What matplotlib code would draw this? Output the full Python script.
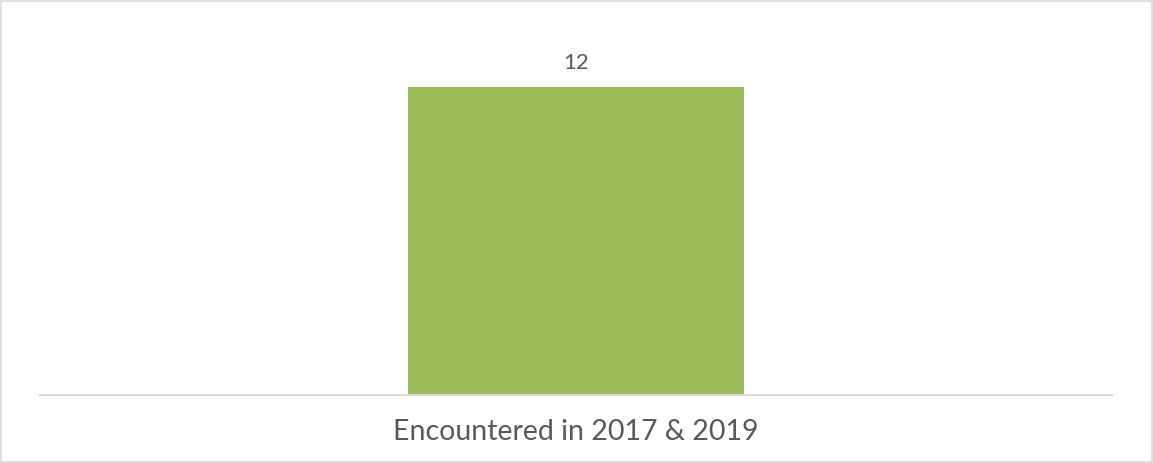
import matplotlib.pyplot as plt
from matplotlib.patches import Rectangle

categories = ['Encountered in 2017 & 2019']
values = [12]

bar_color = '#9bbb59'
text_color = '#595959'
line_color = '#d9d9d9'

plt.rcParams['font.family'] = ['Lato', 'DejaVu Sans']

fig = plt.figure(figsize=(11.53, 4.63), dpi=100)
ax = fig.add_axes([0.0347, 0.1469, 0.9297, 0.776])

bars = ax.bar(range(len(categories)), values, width=0.313, color=bar_color, zorder=2)
ax.set_xlim(-0.5, 0.5)
ax.set_ylim(0, 14)

for rect, v in zip(bars, values):
    ax.text(rect.get_x() + rect.get_width() / 2, v + 0.55, str(v),
            ha='center', va='bottom', fontsize=16, color=text_color)

ax.set_xticks(range(len(categories)))
ax.set_xticklabels(categories, fontsize=20.5, color=text_color)
ax.tick_params(axis='x', length=0, pad=17)
ax.set_yticks([])

for spine in ['left', 'right', 'top']:
    ax.spines[spine].set_visible(False)
ax.spines['bottom'].set_color(line_color)
ax.spines['bottom'].set_linewidth(1.5)

# thin frame round the whole figure
fig.patches.append(Rectangle((0.001, 0.002), 0.998, 0.996, transform=fig.transFigure,
                             fill=False, edgecolor=line_color, linewidth=1.2))

fig.savefig('out.png', dpi=100)
